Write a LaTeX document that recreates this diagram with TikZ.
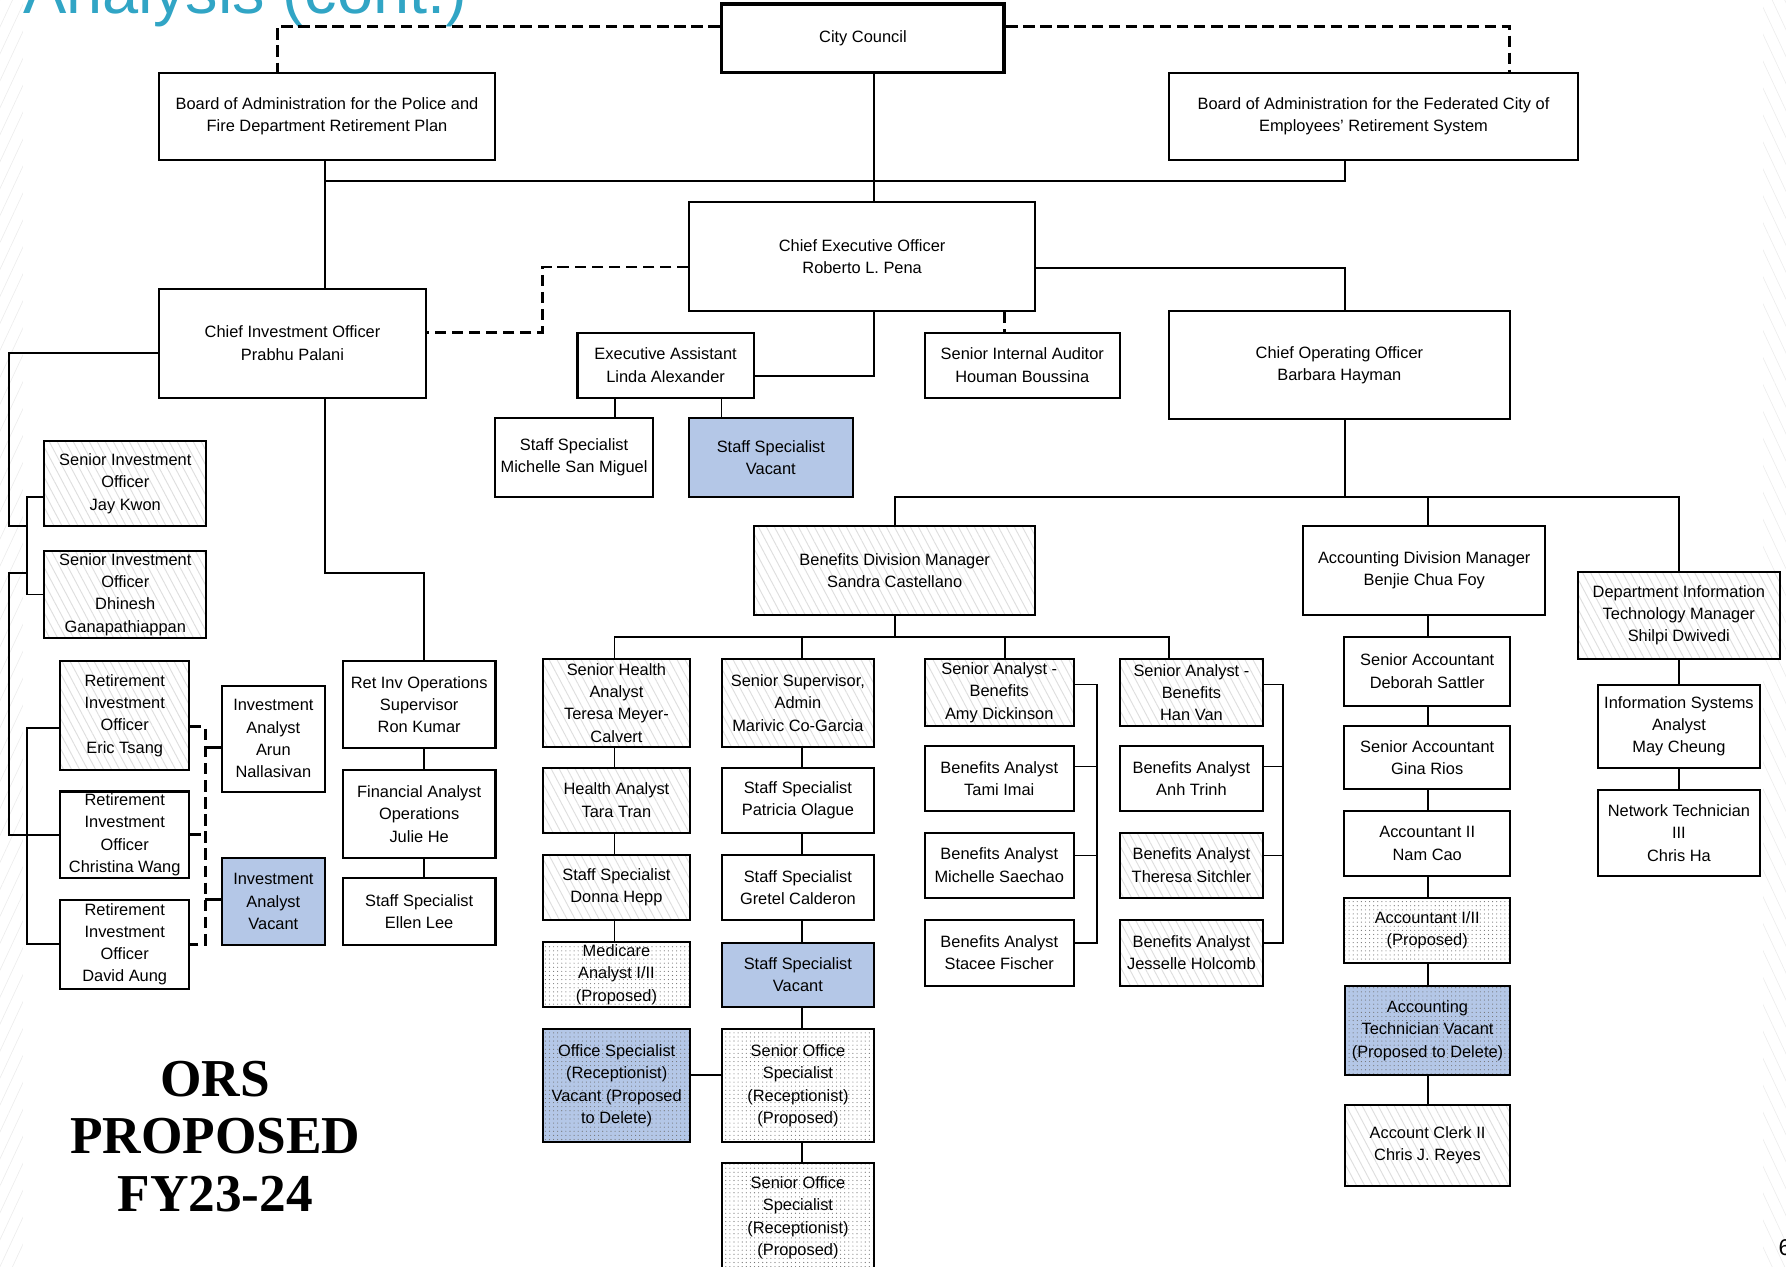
\documentclass[tikz,border=0pt]{standalone}
\usepackage{fontspec}
\setmainfont{Liberation Sans}
\newfontfamily\orsfont{Liberation Serif}
\usetikzlibrary{patterns.meta}
\definecolor{vacantblue}{RGB}{180,199,231}
\definecolor{titleblue}{RGB}{49,165,197}
\newcommand\orgfont{\fontsize{7.2}{9.8}\selectfont}
% box from (x1,y1) to (x2,y2): style, x1, y1, x2, y2, name, text
\newcommand\orgbox[7]{%
  \node[#1,minimum width={(#4-#2)*0.5pt},minimum height={(#5-#3)*0.5pt}]
    (#6) at ({(#2+#4)/2},{(#3+#5)/2}) {#7};}

\begin{document}
\begin{tikzpicture}[x=0.5pt,y=-0.5pt,
  box/.style={draw,line width=0.9pt,fill=white,inner sep=1pt,align=center,font=\orgfont},
  bigbox/.style={box,line width=1.6pt},
  hatchbox/.style={box,preaction={fill=white},pattern={Lines[angle=-62,distance=3.1pt,line width=.4pt]},pattern color=black!13},
  dotbox/.style={box,preaction={fill=white},pattern={Dots[distance=1.8pt,radius=.25pt]},pattern color=black!55},
  vacant/.style={box,fill=vacantblue},
  vacantdot/.style={box,preaction={fill=vacantblue},pattern={Dots[distance=1.8pt,radius=.25pt]},pattern color=black!55},
  link/.style={line width=0.8pt},
  dashlink/.style={line width=1.3pt,dash pattern=on 5pt off 2.5pt}]
  \useasboundingbox (0,0) rectangle (1568,1112);
  \clip (0,0) rectangle (1568,1112);
  %
  % Slide background
  \fill[pattern={Lines[angle=65,distance=5pt,line width=.3pt]},pattern color=black!7]
    (0,0) rectangle (20,1112);
  \fill[pattern={Lines[angle=-65,distance=5pt,line width=.3pt]},pattern color=black!7]
    (1548,0) rectangle (1568,1112);
  \node[anchor=base west,text=titleblue,font=\fontsize{28.5}{30}\selectfont,inner sep=0]
    (title) at (20,12) {Analysis (cont.)};
  \node[anchor=base west,font=\fontsize{10}{12}\selectfont,inner sep=0] (page) at (1561,1102) {6};
  %
  % Top level
  \orgbox{bigbox}{633.5}{3.5}{881.7}{63.5}{cc}{City Council}
  \orgbox{box}{139.6}{63.8}{434.5}{140.5}{bpf}{Board of Administration for the Police and\\Fire Department Retirement Plan}
  \orgbox{box}{1026.3}{63.8}{1385.4}{140.5}{bfed}{Board of Administration for the Federated City of\\Employees' Retirement System}
  \orgbox{box}{605.3}{177.6}{908.5}{273}{ceo}{Chief Executive Officer\\Roberto L. Pena}
  \orgbox{box}{139.6}{253.5}{374}{349.2}{cio}{Chief Investment Officer\\Prabhu Palani}
  \orgbox{box}{507}{292}{661.7}{349.2}{ea}{Executive Assistant\\Linda Alexander}
  \orgbox{box}{812}{292}{983}{349.2}{sia}{Senior Internal Auditor\\Houman Boussina}
  \orgbox{box}{1026.3}{273}{1325.5}{368}{coo}{Chief Operating Officer\\Barbara Hayman}
  \orgbox{box}{434.5}{367}{573.5}{436}{ssm}{Staff Specialist\\Michelle San Miguel}
  \orgbox{vacant}{605}{367}{748.5}{436}{ssv}{Staff Specialist\\Vacant}
  %
  % Investment
  \orgbox{hatchbox}{39}{387}{181}{462}{sio1}{Senior Investment\\Officer\\Jay Kwon}
  \orgbox{hatchbox}{39}{484}{181}{560}{sio2}{Senior Investment\\Officer\\Dhinesh\\Ganapathiappan}
  \orgbox{hatchbox}{53}{580}{166}{676}{rio1}{Retirement\\Investment\\Officer\\Eric Tsang}
  \orgbox{box}{53}{695}{166}{771}{rio2}{Retirement\\Investment\\Officer\\Christina Wang}
  \orgbox{box}{53}{790}{166}{868}{rio3}{Retirement\\Investment\\Officer\\David Aung}
  \orgbox{box}{195}{602}{285}{695}{ia1}{Investment\\Analyst\\Arun\\Nallasivan}
  \orgbox{vacant}{195}{753}{285}{830}{ia2}{Investment\\Analyst\\Vacant}
  \orgbox{box}{301}{580}{435}{657}{rops}{Ret Inv Operations\\Supervisor\\Ron Kumar}
  \orgbox{box}{301}{676}{435}{753}{fao}{Financial Analyst\\Operations\\Julie He}
  \orgbox{box}{301}{771}{435}{830}{sel}{Staff Specialist\\Ellen Lee}
  %
  % Division managers
  \orgbox{hatchbox}{662}{461.5}{909}{540}{bdm}{Benefits Division Manager\\Sandra Castellano}
  \orgbox{box}{1144.3}{461.5}{1356.5}{540}{adm}{Accounting Division Manager\\Benjie Chua Foy}
  \orgbox{hatchbox}{1385}{502}{1562.8}{578.6}{dit}{Department Information\\Technology Manager\\Shilpi Dwivedi}
  %
  % Benefits
  \orgbox{hatchbox}{476.6}{578.6}{605.8}{655.6}{sha}{Senior Health\\Analyst\\Teresa Meyer-\\Calvert}
  \orgbox{hatchbox}{634}{578.6}{767}{655.6}{ssa}{Senior Supervisor,\\Admin\\Marivic Co-Garcia}
  \orgbox{hatchbox}{812}{578.6}{942.6}{637.4}{sab1}{Senior Analyst -\\Benefits\\Amy Dickinson}
  \orgbox{hatchbox}{983.5}{578.6}{1108.5}{637.4}{sab2}{Senior Analyst -\\Benefits\\Han Van}
  \orgbox{hatchbox}{476.6}{674}{605.8}{731}{hat}{Health Analyst\\Tara Tran}
  \orgbox{box}{634}{674}{767}{731}{spo}{Staff Specialist\\Patricia Olague}
  \orgbox{box}{812}{655}{942.6}{712}{bati}{Benefits Analyst\\Tami Imai}
  \orgbox{box}{983.5}{655}{1108.5}{712}{baat}{Benefits Analyst\\Anh Trinh}
  \orgbox{hatchbox}{476.6}{750.7}{605.8}{807.7}{sdh}{Staff Specialist\\Donna Hepp}
  \orgbox{box}{634}{750.7}{767}{807.7}{sgc}{Staff Specialist\\Gretel Calderon}
  \orgbox{box}{812}{731}{942.6}{788}{bams}{Benefits Analyst\\Michelle Saechao}
  \orgbox{hatchbox}{983.5}{731}{1108.5}{788}{bats}{Benefits Analyst\\Theresa Sitchler}
  \orgbox{dotbox}{476.6}{827.6}{605.8}{883.8}{mai}{Medicare\\Analyst I/II\\(Proposed)}
  \orgbox{vacant}{634}{827.6}{767}{883.8}{ssv2}{Staff Specialist\\Vacant}
  \orgbox{box}{812}{807.7}{942.6}{865.4}{basf}{Benefits Analyst\\Stacee Fischer}
  \orgbox{hatchbox}{983.5}{807.7}{1108.5}{865.4}{bajh}{Benefits Analyst\\Jesselle Holcomb}
  \orgbox{vacantdot}{476.8}{903.5}{606}{1002.7}{osr}{Office Specialist\\(Receptionist)\\Vacant (Proposed\\to Delete)}
  \orgbox{dotbox}{633.5}{903.5}{767.6}{1002.7}{sos1}{Senior Office\\Specialist\\(Receptionist)\\(Proposed)}
  \orgbox{dotbox}{633.5}{1021.4}{767.6}{1117}{sos2}{Senior Office\\Specialist\\(Receptionist)\\(Proposed)}
  %
  % Accounting
  \orgbox{box}{1180.3}{559}{1325.7}{619.6}{sa1}{Senior Accountant\\Deborah Sattler}
  \orgbox{box}{1180.3}{637}{1325.7}{693}{sa2}{Senior Accountant\\Gina Rios}
  \orgbox{box}{1180.3}{712}{1325.7}{768.8}{acc2}{Accountant II\\Nam Cao}
  \orgbox{dotbox}{1180.3}{788}{1325.7}{845.8}{acc12}{Accountant I/II\\(Proposed)}
  \orgbox{vacantdot}{1181}{865.7}{1325.5}{943.8}{atv}{Accounting\\Technician Vacant\\(Proposed to Delete)}
  \orgbox{hatchbox}{1181}{970}{1325.5}{1041}{acr}{Account Clerk II\\Chris J. Reyes}
  %
  % Information technology
  \orgbox{box}{1402.7}{601.4}{1545.3}{674}{isa}{Information Systems\\Analyst\\May Cheung}
  \orgbox{box}{1402.7}{693.6}{1545.3}{768.8}{ntc}{Network Technician\\III\\Chris Ha}
  %
  % Title block
  \node[anchor=base,font=\orsfont\bfseries\fontsize{23.4}{25}\selectfont] (ors1) at (189,963) {ORS};
  \node[anchor=base,font=\orsfont\bfseries\fontsize{23.4}{25}\selectfont] (ors2) at (189,1013) {PROPOSED};
  \node[anchor=base,font=\orsfont\bfseries\fontsize{23.4}{25}\selectfont] (ors3) at (189,1064) {FY23-24};
  %
  % Junctions
  \coordinate (jl) at (243.4,23.4);
  \coordinate (jr) at (1325.5,23.4);
  \coordinate (bl) at (285.3,159);
  \coordinate (br) at (1181,159);
  \coordinate (jd) at (476.3,234.4);
  \coordinate (jd2) at (476.3,291.5);
  \coordinate (je) at (1181,235);
  \coordinate (jea) at (767,330);
  \coordinate (jsia) at (881.7,283);
  \coordinate (ja) at (539.8,358);
  \coordinate (jb) at (633.5,358);
  \coordinate (k0) at (7.6,310.2);
  \coordinate (ka) at (7.6,462);
  \coordinate (kb) at (23.4,462);
  \coordinate (kc) at (23.4,436);
  \coordinate (kd) at (23.4,522);
  \coordinate (ke) at (23.4,503);
  \coordinate (kf) at (7.6,503);
  \coordinate (kg) at (7.6,733);
  \coordinate (kh) at (23.4,639);
  \coordinate (ki) at (23.4,829);
  \coordinate (m1) at (180,638);
  \coordinate (m2) at (180,829);
  \coordinate (m3) at (180,733);
  \coordinate (m4) at (180,656);
  \coordinate (m5) at (180,790);
  \coordinate (n1) at (285.4,503);
  \coordinate (n2) at (372,503);
  \coordinate (p0) at (1181,436);
  \coordinate (p1) at (786,436);
  \coordinate (p2) at (1253.7,436);
  \coordinate (p3) at (1474,436);
  \coordinate (q0) at (786,559);
  \coordinate (q1) at (539.5,559);
  \coordinate (q2) at (703.8,559);
  \coordinate (q3) at (882,559);
  \coordinate (q4) at (1026,559);
  \coordinate (r1) at (963,601);
  \coordinate (r2) at (963,673);
  \coordinate (r3) at (963,751);
  \coordinate (r4) at (963,828);
  \coordinate (s1) at (1126.7,601);
  \coordinate (s2) at (1126.7,673);
  \coordinate (s3) at (1126.7,751);
  \coordinate (s4) at (1126.7,828);
  \coordinate (t1) at (620,943.8);
  %
  % Top links
  \draw[dashlink] (cc.west |- jl) -| (bpf.north -| jl);
  \draw[dashlink] (cc.east |- jr) -| (bfed.north -| jr);
  \draw[link] (cc.south -| jea) -- (ceo.north -| jea);
  \draw[link] (bpf.south -| bl) -- (bl) -- (br) -- (bfed.south -| br);
  \draw[link] (bl) -- (cio.north -| bl);
  \draw[dashlink] (ceo.west |- jd) -- (jd) -- (jd2) -- (cio.east |- jd2);
  \draw[link] (ceo.east |- je) -| (coo.north -| je);
  \draw[link] (ceo.south -| jea) |- (ea.east |- jea);
  \draw[dashlink] (ceo.south -| jsia) -- (sia.north -| jsia);
  \draw[link] (ea.south -| ja) -- (ssm.north -| ja);
  \draw[link] (ea.south -| jb) -- (ssv.north -| jb);
  %
  % Investment links
  \draw[link] (cio.west |- k0) -- (k0) -- (ka) -- (kb);
  \draw[link] (sio1.west |- kc) -- (kc) -- (kd) -- (sio2.west |- kd);
  \draw[link] (ke) -- (kf) -- (kg) -- (rio2.west |- kg);
  \draw[link] (rio1.west |- kh) -- (kh) -- (ki) -- (rio3.west |- ki);
  \draw[dashlink] (rio1.east |- m1) -- (m1) -- (m2) -- (rio3.east |- m2);
  \draw[dashlink] (rio2.east |- m3) -- (m3);
  \draw[line width=1.3pt] (m4) -- (ia1.west |- m4);
  \draw[line width=1.3pt] (m5) -- (ia2.west |- m5);
  \draw[link] (cio.south -| n1) -- (n1) -- (n2) -- (rops.north -| n2);
  \draw[link] (rops.south -| n2) -- (fao.north -| n2);
  \draw[link] (fao.south -| n2) -- (sel.north -| n2);
  %
  % Operations links
  \draw[link] (coo.south -| p0) -- (p0);
  \draw[link] (bdm.north -| p1) -- (p1) -- (p3) -- (dit.north -| p3);
  \draw[link] (p2) -- (adm.north -| p2);
  \draw[link] (bdm.south -| q0) -- (q0);
  \draw[link] (sha.north -| q1) -- (q1) -- (q4) -- (sab2.north -| q4);
  \draw[link] (ssa.north -| q2) -- (q2);
  \draw[link] (sab1.north -| q3) -- (q3);
  \foreach \a/\b in {sha/hat,hat/sdh,sdh/mai}
    \draw[link] (\a.south -| q1) -- (\b.north -| q1);
  \foreach \a/\b in {ssa/spo,spo/sgc,sgc/ssv2,ssv2/sos1,sos1/sos2}
    \draw[link] (\a.south -| q2) -- (\b.north -| q2);
  \draw[link] (sab1.east |- r1) -- (r1) -- (r4) -- (basf.east |- r4);
  \draw[link] (bati.east |- r2) -- (r2);
  \draw[link] (bams.east |- r3) -- (r3);
  \draw[link] (sab2.east |- s1) -- (s1) -- (s4) -- (bajh.east |- s4);
  \draw[link] (baat.east |- s2) -- (s2);
  \draw[link] (bats.east |- s3) -- (s3);
  \draw[link] (osr.east |- t1) -- (sos1.west |- t1);
  \foreach \a/\b in {adm/sa1,sa1/sa2,sa2/acc2,acc2/acc12,acc12/atv,atv/acr}
    \draw[link] (\a.south -| p2) -- (\b.north -| p2);
  \foreach \a/\b in {dit/isa,isa/ntc}
    \draw[link] (\a.south -| p3) -- (\b.north -| p3);
  %
\end{tikzpicture}
\end{document}
